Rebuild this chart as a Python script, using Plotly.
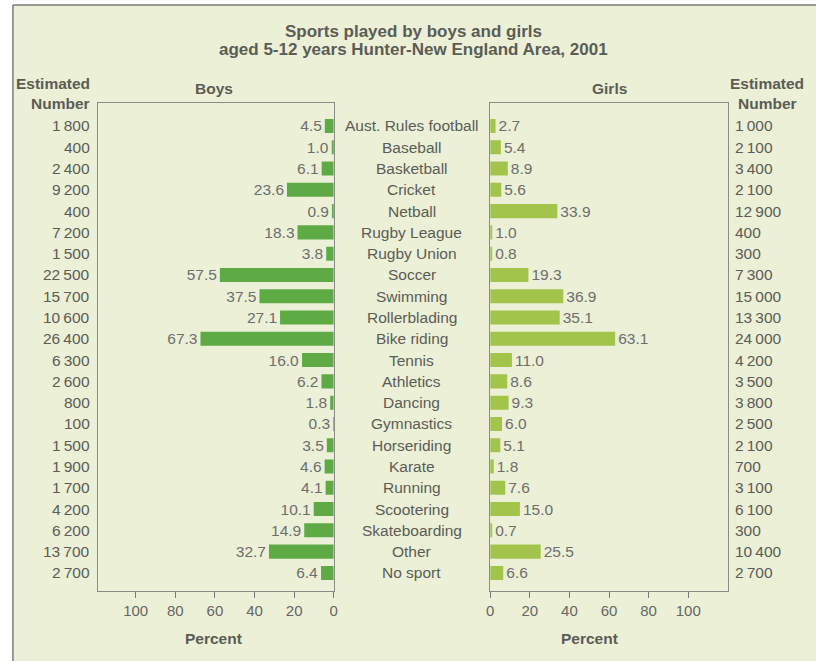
import plotly.graph_objects as go

categories = ["Aust. Rules football", "Baseball", "Basketball", "Cricket", "Netball",
              "Rugby League", "Rugby Union", "Soccer", "Swimming", "Rollerblading",
              "Bike riding", "Tennis", "Athletics", "Dancing", "Gymnastics",
              "Horseriding", "Karate", "Running", "Scootering", "Skateboarding",
              "Other", "No sport"]
boys_pct = [4.5, 1.0, 6.1, 23.6, 0.9, 18.3, 3.8, 57.5, 37.5, 27.1, 67.3, 16.0,
            6.2, 1.8, 0.3, 3.5, 4.6, 4.1, 10.1, 14.9, 32.7, 6.4]
girls_pct = [2.7, 5.4, 8.9, 5.6, 33.9, 1.0, 0.8, 19.3, 36.9, 35.1, 63.1, 11.0,
             8.6, 9.3, 6.0, 5.1, 1.8, 7.6, 15.0, 0.7, 25.5, 6.6]
boys_est = [1800, 400, 2400, 9200, 400, 7200, 1500, 22500, 15700, 10600, 26400, 6300,
            2600, 800, 100, 1500, 1900, 1700, 4200, 6200, 13700, 2700]
girls_est = [1000, 2100, 3400, 2100, 12900, 400, 300, 7300, 15000, 13300, 24000, 4200,
             3500, 3800, 2500, 2100, 700, 3100, 6100, 300, 10400, 2700]
pct_ticks = [0, 20, 40, 60, 80, 100]

W, H = 816, 661
FONT = "Liberation Sans, Arial, sans-serif"
TXT = "#5c5c56"
VAL = "#6e6e6e"
BG = "#ebf0d7"
BOY = "#5eab46"
GIRL = "#a3c44b"
FS = 15.5


def fmt(n):
    s = f"{n:,}"
    return s.replace(",", "\u2009")


def px(x):
    return x / W


def py(y):
    return 1 - y / H


fig = go.Figure()
fig.add_trace(go.Bar(
    y=categories, x=boys_pct, orientation="h", xaxis="x", yaxis="y",
    marker=dict(color=BOY, line=dict(width=0)), width=0.66,
    text=[f"{v:.1f}" for v in boys_pct], textposition="outside",
    textfont=dict(family=FONT, size=FS, color=VAL), cliponaxis=False,
    constraintext="none", hoverinfo="skip"))
fig.add_trace(go.Bar(
    y=categories, x=girls_pct, orientation="h", xaxis="x2", yaxis="y2",
    marker=dict(color=GIRL, line=dict(width=0)), width=0.66,
    text=[f"{v:.1f}" for v in girls_pct], textposition="outside",
    textfont=dict(family=FONT, size=FS, color=VAL), cliponaxis=False,
    constraintext="none", hoverinfo="skip"))

yrange = [21.85, -1.08]
axis_common = dict(showline=True, linecolor="#8a8a8a", linewidth=1, mirror=True,
                   showgrid=False, zeroline=False)
fig.update_layout(
    width=W, height=H, margin=dict(l=0, r=0, t=0, b=0),
    paper_bgcolor="white", plot_bgcolor="white", showlegend=False,
    font=dict(family=FONT, color=TXT, size=FS),
    xaxis=dict(domain=[px(95), px(333)], range=[119, 0], anchor="y",
               tickvals=pct_ticks, ticks="outside", ticklen=6, tickcolor="#777",
               tickfont=dict(family=FONT, size=15, color="#666"), **axis_common),
    yaxis=dict(domain=[py(591), py(103)], range=yrange, anchor="x",
               showticklabels=False, ticks="", type="category", **axis_common),
    xaxis2=dict(domain=[px(491), px(731)], range=[0, 120], anchor="y2",
                tickvals=pct_ticks, ticks="outside", ticklen=6, tickcolor="#777",
                tickfont=dict(family=FONT, size=15, color="#666"), **axis_common),
    yaxis2=dict(domain=[py(591), py(103)], range=yrange, anchor="x2",
                showticklabels=False, ticks="", type="category", **axis_common),
)

# outer background panel (border only on top and left, as in the reference)
fig.add_shape(type="rect", xref="paper", yref="paper",
              x0=px(9), x1=1.1, y0=-0.1, y1=py(5),
              fillcolor=BG, line=dict(width=0), layer="below")
fig.add_shape(type="line", xref="paper", yref="paper",
              x0=px(9), x1=1.1, y0=py(5), y1=py(5),
              line=dict(color="#7a7a7a", width=1.5), layer="below")
fig.add_shape(type="line", xref="paper", yref="paper",
              x0=px(9), x1=px(9), y0=-0.1, y1=py(5),
              line=dict(color="#7a7a7a", width=1.5), layer="below")

ann = []
for cat, be, ge in zip(categories, boys_est, girls_est):
    ann.append(dict(x=px(412), y=cat, xref="paper", yref="y", text=cat,
                    showarrow=False, xanchor="center", yanchor="middle",
                    font=dict(family=FONT, size=FS, color=TXT)))
    ann.append(dict(x=px(89), y=cat, xref="paper", yref="y", text=fmt(be),
                    showarrow=False, xanchor="right", yanchor="middle",
                    font=dict(family=FONT, size=FS, color=TXT)))
    ann.append(dict(x=px(736), y=cat, xref="paper", yref="y", text=fmt(ge),
                    showarrow=False, xanchor="left", yanchor="middle",
                    font=dict(family=FONT, size=FS, color=TXT)))

bold = dict(family=FONT, size=FS, color=TXT)
ann += [
    dict(x=px(414), y=py(31), text="<b>Sports played by boys and girls</b>",
         xanchor="center", font=dict(family=FONT, size=17, color=TXT)),
    dict(x=px(414), y=py(50), text="<b>aged 5-12 years Hunter-New England Area, 2001</b>",
         xanchor="center", font=dict(family=FONT, size=17, color=TXT)),
    dict(x=px(89), y=py(83), text="<b>Estimated</b>", xanchor="right", font=bold),
    dict(x=px(89), y=py(104), text="<b>Number</b>", xanchor="right", font=bold),
    dict(x=px(771), y=py(83), text="<b>Estimated</b>", xanchor="center", font=bold),
    dict(x=px(771), y=py(104), text="<b>Number</b>", xanchor="center", font=bold),
    dict(x=px(212), y=py(89), text="<b>Boys</b>", xanchor="center", font=bold),
    dict(x=px(611), y=py(89), text="<b>Girls</b>", xanchor="center", font=bold),
    dict(x=px(212), y=py(638), text="<b>Percent</b>", xanchor="center", font=bold),
    dict(x=px(591), y=py(638), text="<b>Percent</b>", xanchor="center", font=bold),
]
for a in ann[-10:]:
    a.update(xref="paper", yref="paper", showarrow=False, yanchor="middle")
fig.update_layout(annotations=ann)

fig.write_html("out.html")
